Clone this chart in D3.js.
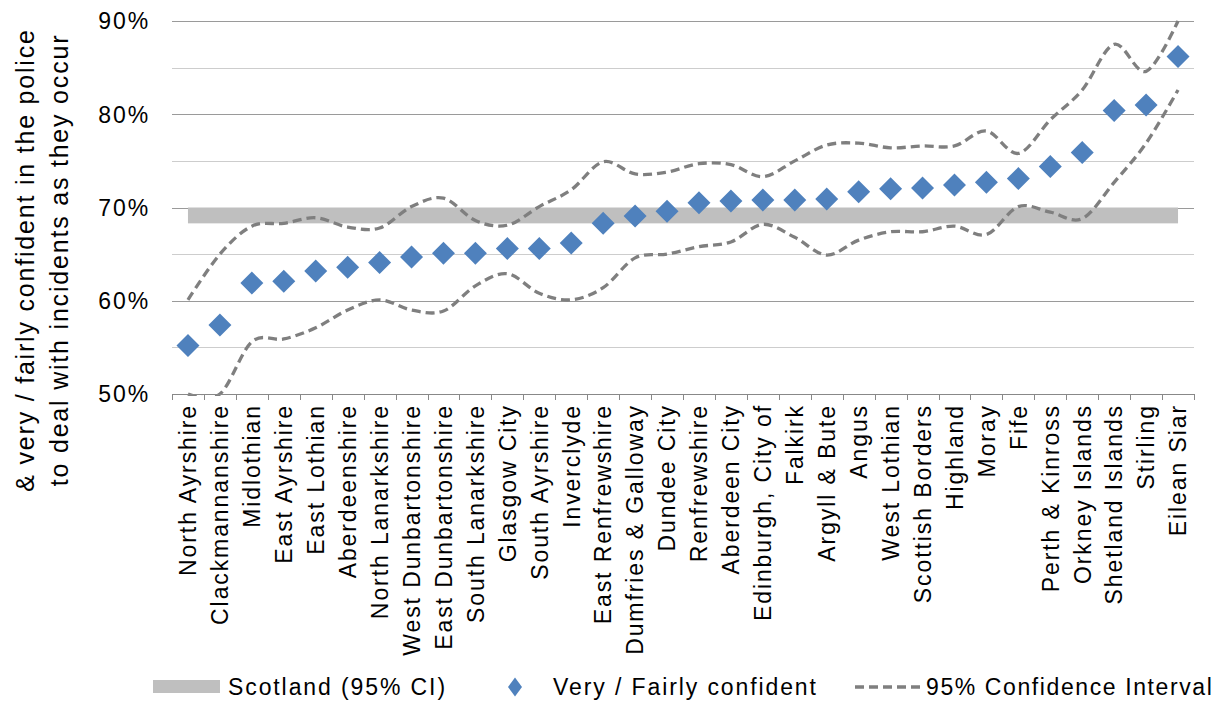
<!DOCTYPE html>
<html>
<head>
<meta charset="utf-8">
<script src="https://cdn.jsdelivr.net/npm/d3@7"></script>
<style>
  body { margin: 0; background: #fff; }
  svg text { font-family: "Liberation Sans", Arial, sans-serif; fill: #000; }
</style>
</head>
<body>
<svg id="chart" width="1226" height="704"></svg>
<script>
var areas = ["North Ayrshire", "Clackmannanshire", "Midlothian", "East Ayrshire", "East Lothian",
  "Aberdeenshire", "North Lanarkshire", "West Dunbartonshire", "East Dunbartonshire",
  "South Lanarkshire", "Glasgow City", "South Ayrshire", "Inverclyde", "East Renfrewshire",
  "Dumfries & Galloway", "Dundee City", "Renfrewshire", "Aberdeen City", "Edinburgh, City of",
  "Falkirk", "Argyll & Bute", "Angus", "West Lothian", "Scottish Borders", "Highland", "Moray",
  "Fife", "Perth & Kinross", "Orkney Islands", "Shetland Islands", "Stirling", "Eilean Siar"];

var confident = [55.2, 57.4, 61.9, 62.1, 63.2, 63.6, 64.1, 64.7, 65.1, 65.1, 65.6, 65.6, 66.2,
  68.3, 69.1, 69.6, 70.5, 70.7, 70.8, 70.8, 70.9, 71.7, 72.0, 72.1, 72.4, 72.7, 73.1, 74.4,
  75.9, 80.4, 81.0, 86.2];

var upperCI = [60.1, 65.0, 68.0, 68.3, 68.9, 67.9, 67.8, 70.1, 71.0, 68.6, 68.1, 70.1, 71.9,
  74.9, 73.6, 73.8, 74.7, 74.6, 73.3, 75.0, 76.7, 76.9, 76.4, 76.6, 76.6, 78.2, 75.8, 79.4,
  82.6, 87.5, 84.6, 90.0];

var lowerCI = [50.0, 50.0, 55.6, 55.9, 57.1, 59.0, 60.1, 59.0, 58.9, 61.6, 62.9, 60.8, 60.1,
  61.4, 64.6, 65.0, 65.8, 66.3, 68.2, 66.8, 64.9, 66.5, 67.4, 67.4, 68.0, 67.1, 70.1, 69.5,
  68.8, 72.7, 76.9, 82.6];

var scotlandCI = [68.3, 70.0];
var yTicks = [50, 55, 60, 65, 70, 75, 80, 85, 90];

var margin = { top: 21, right: 32, bottom: 310, left: 172 },
    width = 1226 - margin.left - margin.right,
    height = 704 - margin.top - margin.bottom;

var blue = "#4f81bd", dashGrey = "#7f7f7f", bandGrey = "#bfbfbf";
var fs = "23px", ls = "1.9px";

var svg = d3.select("#chart");

var x = d3.scaleBand().domain(areas).range([0, width]);
var y = d3.scaleLinear().domain([50, 90]).range([height, 0]);
var cx = function(d) { return x(d) + x.bandwidth() / 2; };

var g = svg.append("g")
    .attr("transform", "translate(" + margin.left + "," + margin.top + ")");

svg.append("clipPath").attr("id", "plotclip")
  .append("rect").attr("x", 0).attr("y", -2).attr("width", width).attr("height", height + 4);

// gridlines
g.selectAll(".grid")
    .data(yTicks.filter(function(t) { return t > 50; }))
  .enter().append("line")
    .attr("x1", 0).attr("x2", width)
    .attr("y1", function(d) { return Math.round(y(d)) + 0.5; })
    .attr("y2", function(d) { return Math.round(y(d)) + 0.5; })
    .attr("stroke", function(d) { return d % 10 === 0 ? "#9a9a9a" : "#cdcdcd"; })
    .attr("stroke-width", 1);

// y labels (every 10%)
g.selectAll(".ylab")
    .data(yTicks.filter(function(t) { return t % 10 === 0; }))
  .enter().append("text")
    .attr("x", -22)
    .attr("y", function(d) { return y(d); })
    .attr("dy", "0.36em")
    .attr("text-anchor", "end")
    .style("font-size", fs)
    .style("letter-spacing", ls)
    .text(function(d) { return d + "%"; });

// Scotland band
g.append("rect")
    .attr("x", cx(areas[0]))
    .attr("width", cx(areas[areas.length - 1]) - cx(areas[0]))
    .attr("y", y(scotlandCI[1]))
    .attr("height", y(scotlandCI[0]) - y(scotlandCI[1]))
    .attr("fill", bandGrey);

// confidence interval lines
var line = d3.line()
    .x(function(d, i) { return cx(areas[i]); })
    .y(function(d) { return y(d); })
    .curve(d3.curveCardinal.tension(0));

[upperCI, lowerCI].forEach(function(series) {
  g.append("path")
      .attr("clip-path", "url(#plotclip)")
      .attr("d", line(series))
      .attr("fill", "none")
      .attr("stroke", dashGrey)
      .attr("stroke-width", 3.3)
      .attr("stroke-dasharray", "9,5");
});

// x axis
var xAxis = g.append("g").attr("transform", "translate(0," + height + ")");
xAxis.append("line")
    .attr("x1", 0).attr("x2", width).attr("y1", 0.5).attr("y2", 0.5)
    .attr("stroke", "#888");
xAxis.selectAll(".tick")
    .data(d3.range(areas.length + 1))
  .enter().append("line")
    .attr("x1", function(i) { return Math.round(i * x.step()) + 0.5; })
    .attr("x2", function(i) { return Math.round(i * x.step()) + 0.5; })
    .attr("y1", 0).attr("y2", 6)
    .attr("stroke", "#888");
xAxis.selectAll(".xlab")
    .data(areas)
  .enter().append("text")
    .attr("transform", function(d) { return "translate(" + cx(d) + ",10) rotate(-90)"; })
    .attr("dy", "0.36em")
    .attr("text-anchor", "end")
    .style("font-size", fs)
    .style("letter-spacing", ls)
    .text(function(d) { return d; });

// diamonds
var diamond = function(w, h) {
  return "M0," + (-h / 2) + "L" + (w / 2) + ",0L0," + (h / 2) + "L" + (-w / 2) + ",0Z";
};
g.selectAll(".pt")
    .data(confident)
  .enter().append("path")
    .attr("transform", function(d, i) { return "translate(" + cx(areas[i]) + "," + y(d) + ")"; })
    .attr("d", diamond(23, 23))
    .attr("fill", blue);

// y axis title
var title = ["& very / fairly confident in the police", "to deal with incidents as they occur"];
svg.selectAll(".ytitle")
    .data(title)
  .enter().append("text")
    .attr("transform", function(d, i) { return "translate(" + (34 + i * 34) + ",260) rotate(-90)"; })
    .attr("text-anchor", "middle")
    .style("font-size", "25px")
    .style("letter-spacing", "1.8px")
    .text(function(d) { return d; });

// legend
var leg = svg.append("g").attr("transform", "translate(0,687)");
leg.append("rect").attr("x", 153).attr("y", -7).attr("width", 67).attr("height", 13).attr("fill", bandGrey);
leg.append("text").attr("x", 228).attr("dy", "0.36em").style("font-size", fs).style("letter-spacing", ls)
    .text("Scotland (95% CI)");
leg.append("path").attr("transform", "translate(515,0)").attr("d", diamond(14, 19)).attr("fill", blue);
leg.append("text").attr("x", 553).attr("dy", "0.36em").style("font-size", fs).style("letter-spacing", ls)
    .text("Very / Fairly confident");
leg.append("line").attr("x1", 855).attr("x2", 922).attr("y1", 0).attr("y2", 0)
    .attr("stroke", dashGrey).attr("stroke-width", 3.3).attr("stroke-dasharray", "9,5");
leg.append("text").attr("x", 926).attr("dy", "0.36em").style("font-size", fs).style("letter-spacing", "1.6px")
    .text("95% Confidence Interval");
</script>
</body>
</html>
